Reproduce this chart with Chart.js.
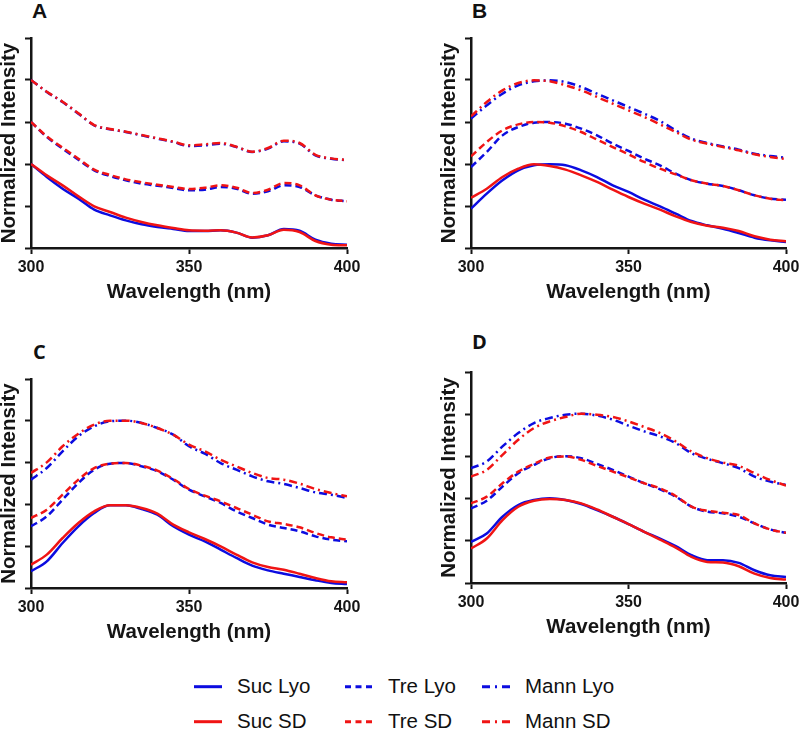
<!DOCTYPE html>
<html>
<head>
<meta charset="utf-8">
<script src="https://cdn.jsdelivr.net/npm/chart.js@4/dist/chart.umd.min.js"></script>
<style>
  html, body { margin: 0; padding: 0; background: #fff; }
  #wrap { position: relative; width: 800px; height: 729px; overflow: hidden; }
  canvas { position: absolute; }
  .letter { position: absolute; font-weight: bold; line-height: 1; color: #111; }
  .lg { position: absolute; font-family: "Liberation Sans", Arial, sans-serif; font-size: 20.5px; line-height: 24px; color: #111; white-space: nowrap; }
</style>
</head>
<body>
<div id="wrap">
  <div class="letter" style="left:32px;top:0px;font-family:'Liberation Sans',Arial,sans-serif;font-size:21px;">A</div>
  <div class="letter" style="left:472px;top:0px;font-family:'Liberation Sans',Arial,sans-serif;font-size:21px;">B</div>
  <div class="letter" style="left:33px;top:342px;font-family:'Open Sans',sans-serif;font-size:20px;">C</div>
  <div class="letter" style="left:472px;top:332px;font-family:'Open Sans',sans-serif;font-size:20px;">D</div>

  <svg id="legendLines" width="800" height="69" style="position:absolute;left:0;top:660px;"></svg>
  <div class="lg" style="left:237px;top:674px;">Suc Lyo</div>
  <div class="lg" style="left:237px;top:709px;">Suc SD</div>
  <div class="lg" style="left:388px;top:674px;">Tre Lyo</div>
  <div class="lg" style="left:388px;top:709px;">Tre SD</div>
  <div class="lg" style="left:525px;top:674px;">Mann Lyo</div>
  <div class="lg" style="left:525px;top:709px;">Mann SD</div>
</div>

<script>
// Wavelength (nm)
const wavelength = [300, 305, 310, 315, 320, 325, 330, 335, 340, 345, 350, 355, 360, 365, 370, 375, 380, 385, 390, 395, 400];
const xTicks = [300, 350, 400];

// Panel A
const aSucLyo  = [1.00, 0.845, 0.706, 0.587, 0.456, 0.389, 0.329, 0.282, 0.250, 0.226, 0.202, 0.202, 0.210, 0.183, 0.123, 0.151, 0.225, 0.205, 0.099, 0.052, 0.040];
const aSucSD   = [1.00, 0.865, 0.746, 0.615, 0.496, 0.429, 0.361, 0.310, 0.270, 0.238, 0.210, 0.206, 0.210, 0.183, 0.125, 0.151, 0.218, 0.190, 0.083, 0.040, 0.032];
const aTreLyo  = [1.50, 1.321, 1.183, 1.052, 0.925, 0.857, 0.806, 0.766, 0.742, 0.714, 0.687, 0.694, 0.726, 0.706, 0.647, 0.675, 0.746, 0.726, 0.627, 0.575, 0.556];
const aTreSD   = [1.50, 1.329, 1.194, 1.063, 0.933, 0.869, 0.817, 0.782, 0.754, 0.726, 0.702, 0.718, 0.746, 0.718, 0.655, 0.694, 0.774, 0.746, 0.627, 0.575, 0.556];
const aMannLyo = [2.00, 1.857, 1.738, 1.599, 1.460, 1.413, 1.381, 1.341, 1.302, 1.262, 1.214, 1.222, 1.242, 1.202, 1.143, 1.183, 1.270, 1.242, 1.103, 1.063, 1.044];
const aMannSD  = [2.00, 1.860, 1.742, 1.603, 1.464, 1.417, 1.385, 1.345, 1.306, 1.266, 1.222, 1.234, 1.250, 1.206, 1.147, 1.190, 1.278, 1.250, 1.110, 1.067, 1.048];

// Panel B
const bSucLyo  = [0.468, 0.647, 0.806, 0.925, 0.984, 0.996, 0.984, 0.925, 0.845, 0.746, 0.667, 0.575, 0.496, 0.409, 0.321, 0.270, 0.230, 0.179, 0.123, 0.091, 0.071];
const bSucSD   = [0.599, 0.706, 0.845, 0.944, 0.996, 0.976, 0.933, 0.865, 0.786, 0.694, 0.607, 0.528, 0.456, 0.377, 0.310, 0.266, 0.242, 0.202, 0.139, 0.099, 0.079];
const bTreLyo  = [0.964, 1.143, 1.341, 1.440, 1.492, 1.500, 1.480, 1.421, 1.341, 1.242, 1.155, 1.063, 0.984, 0.885, 0.806, 0.766, 0.738, 0.687, 0.627, 0.587, 0.575];
const bTreSD   = [1.091, 1.262, 1.401, 1.472, 1.500, 1.492, 1.448, 1.381, 1.290, 1.202, 1.115, 1.024, 0.944, 0.877, 0.806, 0.766, 0.738, 0.687, 0.627, 0.587, 0.567];
const bMannLyo = [1.540, 1.698, 1.837, 1.937, 1.984, 1.996, 1.976, 1.917, 1.837, 1.758, 1.679, 1.599, 1.512, 1.401, 1.302, 1.250, 1.210, 1.171, 1.123, 1.095, 1.075];
const bMannSD  = [1.567, 1.738, 1.877, 1.964, 1.996, 1.984, 1.937, 1.877, 1.798, 1.718, 1.639, 1.560, 1.472, 1.381, 1.290, 1.242, 1.202, 1.163, 1.115, 1.083, 1.060];

// Panel C
const cSucLyo  = [0.200, 0.319, 0.538, 0.738, 0.897, 0.989, 0.989, 0.945, 0.877, 0.738, 0.638, 0.558, 0.459, 0.359, 0.267, 0.211, 0.171, 0.132, 0.092, 0.060, 0.048];
const cSucSD   = [0.279, 0.399, 0.598, 0.778, 0.917, 0.989, 0.989, 0.957, 0.889, 0.758, 0.666, 0.586, 0.498, 0.399, 0.307, 0.251, 0.219, 0.171, 0.120, 0.080, 0.068];
const cTreLyo  = [0.738, 0.857, 1.057, 1.256, 1.415, 1.487, 1.495, 1.455, 1.396, 1.296, 1.176, 1.096, 1.017, 0.917, 0.837, 0.758, 0.718, 0.678, 0.618, 0.578, 0.558];
const cTreSD   = [0.837, 0.937, 1.116, 1.296, 1.435, 1.487, 1.495, 1.463, 1.404, 1.304, 1.184, 1.104, 1.037, 0.957, 0.877, 0.797, 0.766, 0.726, 0.658, 0.606, 0.578];
const cMannLyo = [1.296, 1.435, 1.635, 1.814, 1.934, 1.994, 2.002, 1.974, 1.914, 1.834, 1.695, 1.607, 1.495, 1.415, 1.336, 1.276, 1.244, 1.196, 1.144, 1.116, 1.077];
const cMannSD  = [1.376, 1.503, 1.695, 1.846, 1.954, 2.002, 2.002, 1.974, 1.914, 1.834, 1.715, 1.635, 1.535, 1.455, 1.376, 1.316, 1.296, 1.248, 1.184, 1.136, 1.096];

// Panel D
const dSucLyo  = [0.488, 0.587, 0.785, 0.924, 0.983, 1.003, 0.983, 0.936, 0.864, 0.785, 0.698, 0.607, 0.527, 0.436, 0.329, 0.270, 0.270, 0.238, 0.151, 0.091, 0.071];
const dSucSD   = [0.408, 0.527, 0.745, 0.904, 0.975, 0.995, 0.983, 0.944, 0.872, 0.785, 0.698, 0.607, 0.515, 0.420, 0.309, 0.250, 0.242, 0.198, 0.111, 0.059, 0.040];
const dTreLyo  = [0.884, 0.975, 1.142, 1.301, 1.400, 1.479, 1.503, 1.479, 1.412, 1.340, 1.261, 1.182, 1.110, 1.023, 0.904, 0.845, 0.825, 0.785, 0.706, 0.634, 0.595];
const dTreSD   = [0.944, 1.023, 1.182, 1.320, 1.412, 1.487, 1.499, 1.459, 1.388, 1.320, 1.253, 1.182, 1.122, 1.031, 0.904, 0.856, 0.833, 0.805, 0.706, 0.634, 0.595];
const dMannLyo = [1.360, 1.439, 1.618, 1.776, 1.895, 1.955, 1.994, 2.006, 1.983, 1.935, 1.864, 1.796, 1.737, 1.657, 1.538, 1.471, 1.419, 1.360, 1.261, 1.201, 1.162];
const dMannSD  = [1.261, 1.340, 1.519, 1.697, 1.836, 1.915, 1.967, 2.006, 1.994, 1.967, 1.915, 1.848, 1.776, 1.677, 1.558, 1.479, 1.427, 1.388, 1.301, 1.221, 1.154];

// Series styles (red drawn first so blue sits on top)
const BLUE = '#0c0ce0';
const RED = '#f01414';
const DASH_TRE = [7, 4];
const DASH_MANN = [8, 4, 2, 4];
const seriesStyle = [
  { label: 'Suc SD',   color: RED,  dash: [] },
  { label: 'Suc Lyo',  color: BLUE, dash: [] },
  { label: 'Tre SD',   color: RED,  dash: DASH_TRE },
  { label: 'Tre Lyo',  color: BLUE, dash: DASH_TRE },
  { label: 'Mann SD',  color: RED,  dash: DASH_MANN },
  { label: 'Mann Lyo', color: BLUE, dash: DASH_MANN }
];

// plot area of each panel in page pixels
const panels = [
  { l: 31,  t: 38,  r: 347, b: 248, series: [aSucSD, aSucLyo, aTreSD, aTreLyo, aMannSD, aMannLyo] },
  { l: 471, t: 38,  r: 786, b: 248, series: [bSucSD, bSucLyo, bTreSD, bTreLyo, bMannSD, bMannLyo] },
  { l: 31,  t: 379, r: 347, b: 588, series: [cSucSD, cSucLyo, cTreSD, cTreLyo, cMannSD, cMannLyo] },
  { l: 471, t: 372, r: 786, b: 583, series: [dSucSD, dSucLyo, dTreSD, dTreLyo, dMannSD, dMannLyo] }
];

const AXIS = '#151515';
const Y_W = 31, TOP_PAD = 18, RIGHT_PAD = 18, X_H = 62;

function makePanel(p) {
  const canvas = document.createElement('canvas');
  const w = (p.r - p.l) + Y_W + RIGHT_PAD;
  const h = (p.b - p.t) + TOP_PAD + X_H;
  canvas.width = w;
  canvas.height = h;
  canvas.style.left = (p.l - Y_W) + 'px';
  canvas.style.top = (p.t - TOP_PAD) + 'px';
  canvas.style.width = w + 'px';
  canvas.style.height = h + 'px';
  document.getElementById('wrap').appendChild(canvas);

  const datasets = seriesStyle.map((s, i) => ({
    label: s.label,
    data: wavelength.map((x, j) => ({ x: x, y: p.series[i][j] })),
    borderColor: s.color,
    borderWidth: 2.5,
    borderDash: s.dash,
    pointRadius: 0,
    fill: false,
    cubicInterpolationMode: 'monotone'
  }));

  new Chart(canvas, {
    type: 'line',
    data: { datasets },
    options: {
      responsive: false,
      animation: false,
      events: [],
      layout: { padding: { top: TOP_PAD, right: RIGHT_PAD, left: 0, bottom: 0 } },
      plugins: { legend: { display: false }, tooltip: { enabled: false } },
      scales: {
        x: {
          type: 'linear',
          min: 300,
          max: 400,
          afterBuildTicks: axis => { axis.ticks = xTicks.map(v => ({ value: v })); },
          ticks: {
            color: AXIS,
            padding: 4,
            maxRotation: 0,
            font: { family: 'Liberation Sans', size: 16, weight: 'bold' }
          },
          grid: { drawOnChartArea: false, tickLength: 6, tickColor: AXIS, tickWidth: 2 },
          border: { color: AXIS, width: 2.5 },
          title: {
            display: true,
            text: 'Wavelength (nm)',
            color: AXIS,
            padding: { top: 0, bottom: 7 },
            font: { family: 'Liberation Sans', size: 20.5, weight: 'bold', lineHeight: 1 }
          },
          afterFit: scale => { scale.height = X_H; }
        },
        y: {
          min: 0,
          max: 2.5,
          ticks: { stepSize: 0.5, callback: () => '', padding: 0 },
          grid: { drawOnChartArea: false, tickLength: 6, tickColor: AXIS, tickWidth: 2 },
          border: { color: AXIS, width: 2.5 },
          title: {
            display: true,
            text: 'Normalized Intensity',
            color: AXIS,
            padding: { top: -1, bottom: 0 },
            font: { family: 'Liberation Sans', size: 20.5, weight: 'bold', lineHeight: 1 }
          },
          afterFit: scale => { scale.width = Y_W; }
        }
      }
    }
  });
}

// Legend samples
function drawLegendLines() {
  const svg = document.getElementById('legendLines');
  const cols = [
    { x1: 194, x2: 222, dash: 'none' },
    { x1: 345, x2: 372, dash: '6,4.5' },
    { x1: 482, x2: 510, dash: '8,5,2,5' }
  ];
  const rows = [{ y: 26.7, color: BLUE }, { y: 61.7, color: RED }];
  let html = '';
  rows.forEach(r => {
    cols.forEach(c => {
      html += `<line x1="${c.x1}" y1="${r.y}" x2="${c.x2}" y2="${r.y}" stroke="${r.color}" stroke-width="3" stroke-dasharray="${c.dash}"/>`;
    });
  });
  svg.innerHTML = html;
}

panels.forEach(makePanel);
drawLegendLines();
</script>
</body>
</html>
